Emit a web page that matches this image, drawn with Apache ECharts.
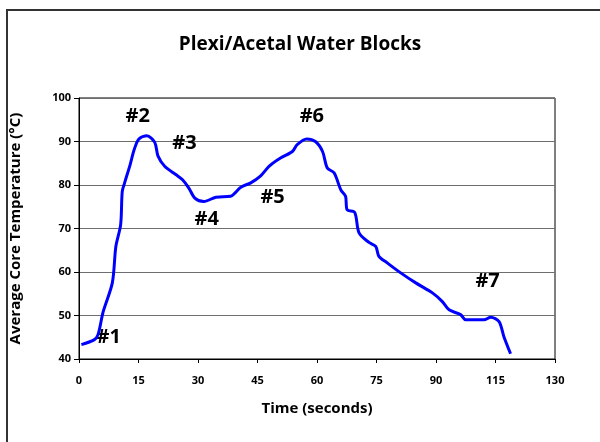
<!DOCTYPE html>
<html lang="en" style="height: 100%">
<head>
  <meta charset="utf-8">
</head>
<body style="height: 100%; margin: 0">
  <div id="container" style="height: 100%"></div>

  <script type="text/javascript" src="https://cdn.jsdelivr.net/npm/echarts@6/dist/echarts.min.js"></script>

  <script type="text/javascript">
    // readings (x in axis units, labels below are what the sheet printed)
    var timeSec = [0.6, 3.8, 4.8, 6.1, 8.4, 9.3, 10.5, 10.9, 11.5, 12.9, 13.9, 15.1, 17.1, 19.1, 19.9,
      21.6, 24.4, 26.1, 27.7, 29.2, 31.5, 34.5, 38.2, 40.8, 43.3, 45.8, 47.9, 50.8, 53.8, 55.0,
      57.4, 59.6, 61.4, 62.6, 64.3, 66.0, 67.2, 67.6, 69.5, 70.6, 73.1, 74.8, 75.6, 77.7, 81.1,
      84.9, 89.1, 91.6, 93.3, 96.2, 97.5, 102.1, 103.8, 105.9, 107.1, 108.8];
    var coreTemp = [43.3, 44.4, 45.6, 50.9, 57.5, 65.9, 70.9, 78.5, 80.5, 84.7, 88.1, 90.6, 91.3, 89.8, 86.7,
      84.3, 82.4, 81.2, 79.3, 77.0, 76.2, 77.2, 77.4, 79.5, 80.5, 82.1, 84.3, 86.2, 87.7, 89.3,
      90.6, 90.0, 87.7, 83.9, 82.8, 78.9, 77.4, 74.3, 73.7, 69.0, 66.8, 65.9, 63.6, 62.1, 59.8,
      57.5, 55.2, 53.2, 51.3, 50.2, 49.0, 49.0, 49.6, 48.6, 45.2, 41.2];
    var xTickLabels = ['0', '15', '30', '45', '60', '75', '90', '115', '130'];

    // phase markers
    var markNames = ['#1', '#2', '#3', '#4', '#5', '#6', '#7'];
    var markTime = [7.5, 14.8, 26.6, 32.2, 48.8, 58.7, 103.0];
    var markTemp = [45.1, 95.9, 89.7, 72.2, 77.1, 95.9, 57.8];

    var dom = document.getElementById('container');
    var myChart = echarts.init(dom, null, { renderer: 'canvas' });
    var font = '"Open Sans", sans-serif';

    var lineData = timeSec.map(function (t, i) { return [t, coreTemp[i]]; });
    var markData = markNames.map(function (n, i) {
      return { name: n, value: [markTime[i], markTemp[i]] };
    });

    var option = {
      animation: false,
      title: {
        text: 'Plexi/Acetal Water Blocks',
        left: 'center',
        top: 30,
        textStyle: { fontFamily: font, fontWeight: 'bold', fontSize: 19, color: '#000' }
      },
      graphic: [{
        type: 'rect',
        shape: { x: 7, y: 10, width: 620, height: 460 },
        style: { fill: 'none', stroke: '#333', lineWidth: 2 },
        silent: true
      }],
      grid: {
        left: 79, right: 45, top: 98, bottom: 83,
        show: true, borderColor: '#000', borderWidth: 1
      },
      xAxis: {
        type: 'value',
        min: 0, max: 120, interval: 15,
        name: 'Time (seconds)',
        nameLocation: 'middle',
        nameGap: 42,
        nameTextStyle: { fontFamily: font, fontWeight: 'bold', fontSize: 15, color: '#000' },
        axisLine: { lineStyle: { color: '#000' } },
        axisTick: { show: true, length: 4, lineStyle: { color: '#000' } },
        axisLabel: {
          margin: 16,
          fontFamily: font, fontWeight: 'bold', fontSize: 11, color: '#000',
          formatter: function (v) { return xTickLabels[Math.round(v / 15)]; }
        },
        splitLine: { show: false }
      },
      yAxis: {
        type: 'value',
        min: 40, max: 100, interval: 10,
        name: 'Average Core Temperature (°C)',
        nameLocation: 'middle',
        nameGap: 56,
        nameTextStyle: { fontFamily: font, fontWeight: 'bold', fontSize: 15, color: '#000' },
        axisLine: { show: true, lineStyle: { color: '#000' } },
        axisTick: { show: true, length: 5, lineStyle: { color: '#000' } },
        axisLabel: { margin: 8, fontFamily: font, fontWeight: 'bold', fontSize: 11, color: '#000' },
        splitLine: { lineStyle: { color: '#6e6e6e', width: 1 } }
      },
      series: [
        {
          type: 'line',
          data: lineData,
          smooth: 0.3,
          showSymbol: false,
          lineStyle: { color: '#0000ff', width: 3 }
        },
        {
          type: 'scatter',
          data: markData,
          symbolSize: 0,
          itemStyle: { opacity: 1 },
          label: {
            show: true,
            position: 'inside',
            formatter: '{b}',
            opacity: 1,
            textBorderWidth: 0,
            fontFamily: font, fontWeight: 'bold', fontSize: 20, color: '#000'
          }
        }
      ]
    };

    myChart.setOption(option);
    window.addEventListener('resize', myChart.resize);
  </script>
</body>
</html>
